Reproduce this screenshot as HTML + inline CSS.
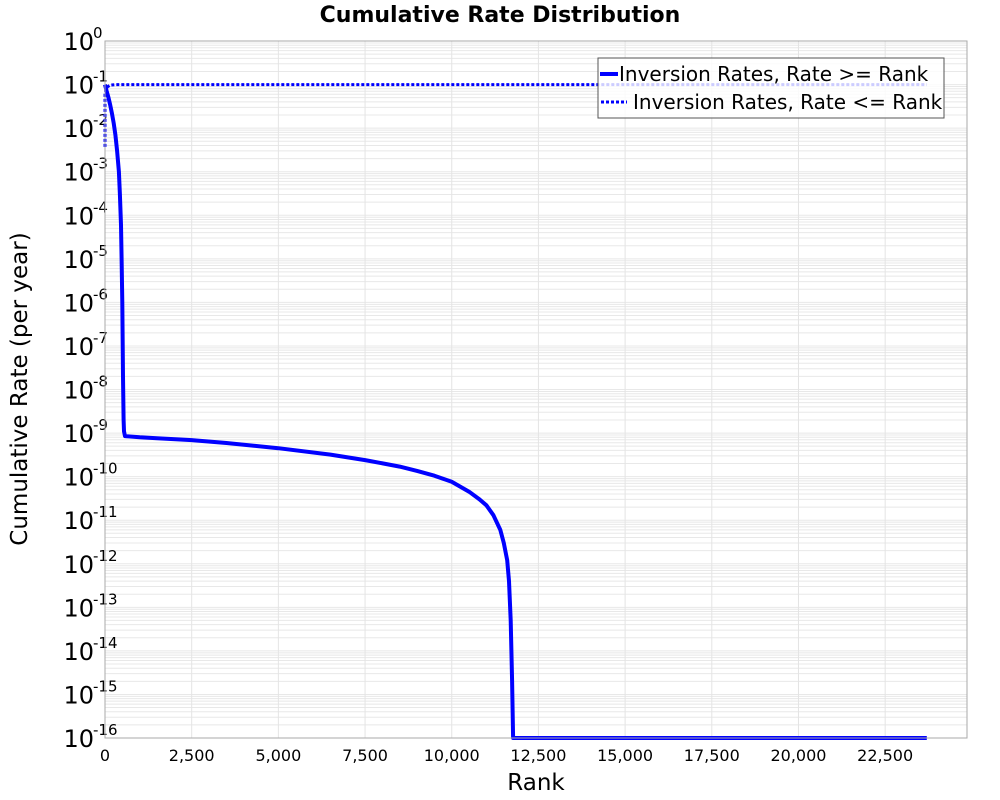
<!DOCTYPE html>
<html><head><meta charset="utf-8"><style>
body{margin:0;background:#fff;}
svg{display:block;font-family:"DejaVu Sans","Liberation Sans",sans-serif;}
</style></head><body>
<svg id="chart" width="1000" height="800" viewBox="0 0 1000 800">
<text x="500" y="22" text-anchor="middle" font-size="22" font-weight="bold">Cumulative Rate Distribution</text>
<g id="grid"></g>
<g id="yticks"></g>
<g id="xticks"></g>
<g id="series"></g>
<rect x="105" y="41" width="862" height="697" fill="none" stroke="#aaa" stroke-width="1"/>
<text transform="translate(27,389) rotate(-90)" text-anchor="middle" font-size="23">Cumulative Rate (per year)</text>
<text x="536" y="790" text-anchor="middle" font-size="23">Rank</text>
<g>
<rect x="598" y="58" width="346" height="60" fill="rgba(255,255,255,0.8)" stroke="#555" stroke-width="1"/>
<line x1="600" y1="74" x2="618" y2="74" stroke="#00f" stroke-width="4"/>
<text x="619" y="81" font-size="20">Inversion Rates, Rate &gt;= Rank</text>
<line x1="601" y1="102" x2="627" y2="102" stroke="#00f" stroke-width="3" stroke-dasharray="3,2"/>
<text x="633" y="109" font-size="20">Inversion Rates, Rate &lt;= Rank</text>
</g>
</svg>
<script>
const xTickValues=[0,2500,5000,7500,10000,12500,15000,17500,20000,22500];
const xTickLabels=["0","2,500","5,000","7,500","10,000","12,500","15,000","17,500","20,000","22,500"];
const yExponents=[0,-1,-2,-3,-4,-5,-6,-7,-8,-9,-10,-11,-12,-13,-14,-15,-16];
const geRanks=[0,50,100,150,200,250,300,350,400,430,460,480,500,520,535,548,577,1000,1500,2500,3500,5000,6500,7500,8500,9000,9500,10000,10500,10800,11000,11200,11400,11500,11600,11650,11700,11740,11770,11800,23700];
const geRates=[0.1,0.07,0.05,0.034,0.022,0.013,0.007,0.003,1e-3,3e-4,6e-5,1e-5,1e-6,2e-8,2e-9,1.1e-9,8.5e-10,8e-10,7.6e-10,6.9e-10,5.9e-10,4.5e-10,3.2e-10,2.4e-10,1.7e-10,1.35e-10,1.05e-10,7.6e-11,4.5e-11,3e-11,2.2e-11,1.3e-11,6e-12,3e-12,1.2e-12,4e-13,5e-14,2e-15,1e-16,1e-16,1e-16];
const leRanks=[0,0,30,80,150,300,23700];
const leRates=[3.7e-3,0.06,0.08,0.09,0.097,0.1,0.1];
const L=105,R=967,T=41,B=738,XMAX=24860,YMAX=0,YMIN=-16;
const ns="http://www.w3.org/2000/svg";
function sx(v){return L+v/XMAX*(R-L);}
function sy(v){return T+(YMAX-Math.log10(v))/(YMAX-YMIN)*(B-T);}
function mk(t,a,p){const e=document.createElementNS(ns,t);for(const k in a)e.setAttribute(k,a[k]);p.appendChild(e);return e;}
const grid=document.getElementById('grid');
for(let d=0;d>YMIN;d--){for(let m=1;m<10;m++){const y=sy(m*Math.pow(10,d-1));
const ln=mk('line',{x1:L,x2:R,y1:y,y2:y,stroke:'#e8e8e8','stroke-width':1},grid);

}}
xTickValues.forEach(v=>{const ln=mk('line',{x1:sx(v),x2:sx(v),y1:T,y2:B,stroke:'#e4e4e4','stroke-width':1},grid);

});
const yt=document.getElementById('yticks');
yExponents.forEach(e=>{const y=sy(Math.pow(10,e));
const t=mk('text',{x:94,y:y+9,'text-anchor':'end','font-size':24},yt);t.textContent='10';


const s=mk('text',{x:93,y:y-3,'font-size':15},yt);s.textContent=String(e);

});
const xt=document.getElementById('xticks');
xTickValues.forEach((v,i)=>{const t=mk('text',{x:sx(v),y:761,'text-anchor':'middle','font-size':16},xt);t.textContent=xTickLabels[i];

});
const sg=document.getElementById('series');
function path(xs,ys){return xs.map((x,i)=>(i?'L':'M')+sx(x).toFixed(1)+','+sy(ys[i]).toFixed(1)).join(' ');}
const p1=mk('path',{d:path(geRanks,geRates),fill:'none',stroke:'#00f','stroke-width':4,'stroke-linejoin':'round'},sg);


const p2=mk('path',{d:path(leRanks,leRates),fill:'none',stroke:'#00f','stroke-width':3,'stroke-dasharray':'3,2'},sg);


</script>
</body></html>
